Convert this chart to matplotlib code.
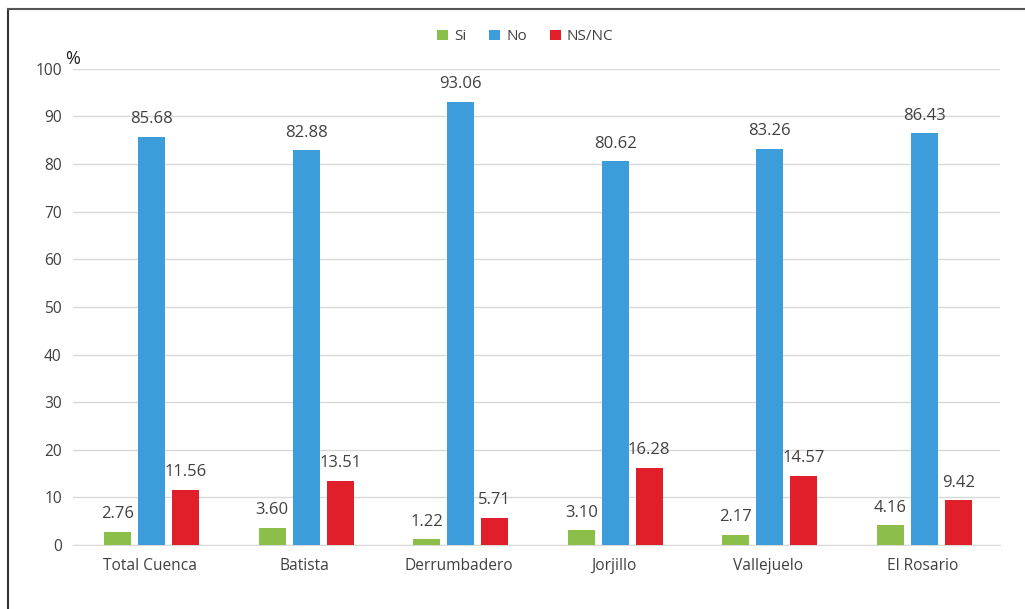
import matplotlib.pyplot as plt
import numpy as np
from matplotlib.lines import Line2D

categories = ['Total Cuenca', 'Batista', 'Derrumbadero', 'Jorjillo', 'Vallejuelo', 'El Rosario']
si = [2.76, 3.60, 1.22, 3.10, 2.17, 4.16]
no = [85.68, 82.88, 93.06, 80.62, 83.26, 86.43]
nsnc = [11.56, 13.51, 5.71, 16.28, 14.57, 9.42]

plt.rcParams['font.family'] = ['Open Sans', 'DejaVu Sans']
text_color = '#404040'

fig = plt.figure(figsize=(10.25, 6.09), dpi=100)
ax = fig.add_axes([0.0712, 0.105, 0.9044, 0.782])

x = np.arange(len(categories))
w = 0.175
off = 0.22
series = [(si, 'Si', '#8CBF4A', -off), (no, 'No', '#3C9DDA', 0), (nsnc, 'NS/NC', '#E01F2A', off)]
for vals, name, color, dx in series:
    bars = ax.bar(x + dx + 0.01, vals, w, color=color, label=name, zorder=3)
    for b, v in zip(bars, vals):
        ax.text(b.get_x() + b.get_width() / 2, v + 2.0, f'{v:.2f}', ha='center', va='bottom',
                fontsize=12, color=text_color)

ax.set_xlim(-0.5, len(categories) - 0.5)
ax.set_ylim(0, 100)
ax.set_yticks(range(0, 101, 10))
ax.set_xticks(x)
ax.set_xticklabels(categories)
ax.yaxis.grid(True, color='#D9D9D9', linewidth=1, zorder=0)
ax.tick_params(axis='both', length=0, labelsize=11.2, labelcolor=text_color)
ax.tick_params(axis='x', pad=9)
ax.tick_params(axis='y', pad=8)
for s in ['top', 'right', 'left']:
    ax.spines[s].set_visible(False)
ax.spines['bottom'].set_color('#D9D9D9')

fig.text(0.0635, 0.903, '%', fontsize=13, color='#202020', ha='left', va='center')

ax.legend(loc='center', bbox_to_anchor=(0.488, 1.067), ncol=3, frameon=False,
          fontsize=11, handlelength=0.7, handleheight=0.7, handletextpad=0.4, columnspacing=1.5,
          labelcolor=text_color)

# outer frame
fig.add_artist(Line2D([8 / 1025, 8 / 1025], [0, 1 - 9 / 609], color='#333333', linewidth=1.5,
                      transform=fig.transFigure))
fig.add_artist(Line2D([8 / 1025, 1], [1 - 9 / 609, 1 - 9 / 609], color='#555555', linewidth=1.5,
                      transform=fig.transFigure))

fig.savefig('out.png', dpi=100)
